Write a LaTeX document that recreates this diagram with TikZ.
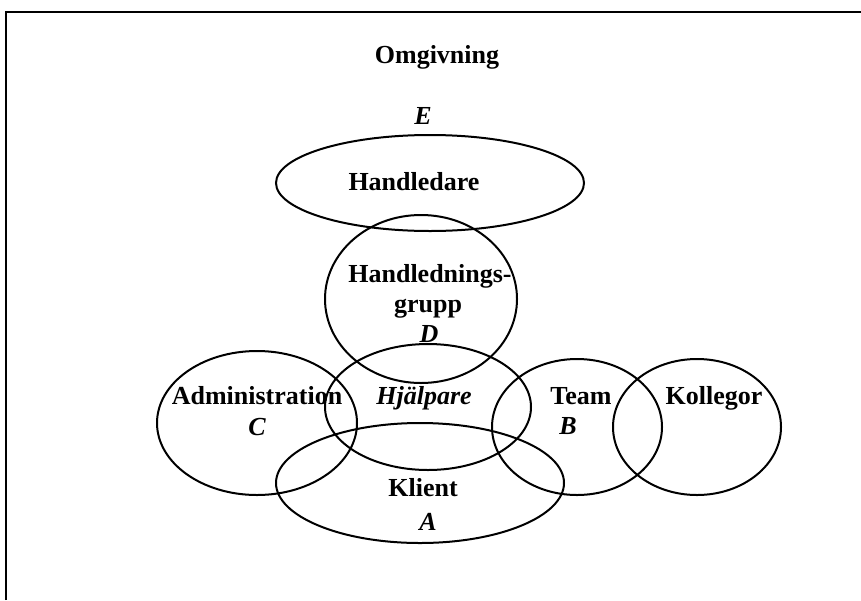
\documentclass[tikz,border=0pt]{standalone}
\usepackage{fontspec}
\setmainfont{Liberation Serif}
\begin{document}
\begin{tikzpicture}[x=0.5pt,y=-0.5pt,
  ring/.style={draw=black,line width=1pt},
  lbl/.style={anchor=base,inner sep=0pt,font=\fontsize{13}{15}\selectfont\bfseries},
  ilbl/.style={lbl,font=\fontsize{13}{15}\selectfont\bfseries\itshape}]
\useasboundingbox (0,0) rectangle (861,600);
\fill[white] (0,0) rectangle (861,600);
% frame (cut at right and bottom)
\draw[line width=1pt] (6,600) -- (6,12) -- (861,12);
% ellipses
\draw[ring] (430,183) ellipse [x radius=154, y radius=48];
\draw[ring] (421,299) ellipse [x radius=96, y radius=84];
\draw[ring] (428,407) ellipse [x radius=103, y radius=63];
\draw[ring] (257,423) ellipse [x radius=100, y radius=72];
\draw[ring] (420,483) ellipse [x radius=144, y radius=60];
\draw[ring] (577,427) ellipse [x radius=85, y radius=68];
\draw[ring] (697,427) ellipse [x radius=84, y radius=68];
% labels
\node[lbl] (omg) at (437,63) {Omgivning};
\node[ilbl] (e) at (423,124) {E};
\node[lbl] (hl) at (414,190) {Handledare};
\node[lbl] (hg1) at (430,282) {Handlednings-};
\node[lbl] (hg2) at (428,312) {grupp};
\node[ilbl] (d) at (429,342) {D};
\node[lbl] (adm) at (257,404) {Administration};
\node[ilbl] (c) at (257,435) {C};
\node[ilbl] (hj) at (424,404) {Hjälpare};
\node[lbl] (team) at (581,404) {Team};
\node[ilbl] (b) at (568,434) {B};
\node[lbl] (kol) at (714,404) {Kollegor};
\node[lbl] (kl) at (423,496) {Klient};
\node[ilbl] (a) at (428,530) {A};
\end{tikzpicture}
\end{document}
